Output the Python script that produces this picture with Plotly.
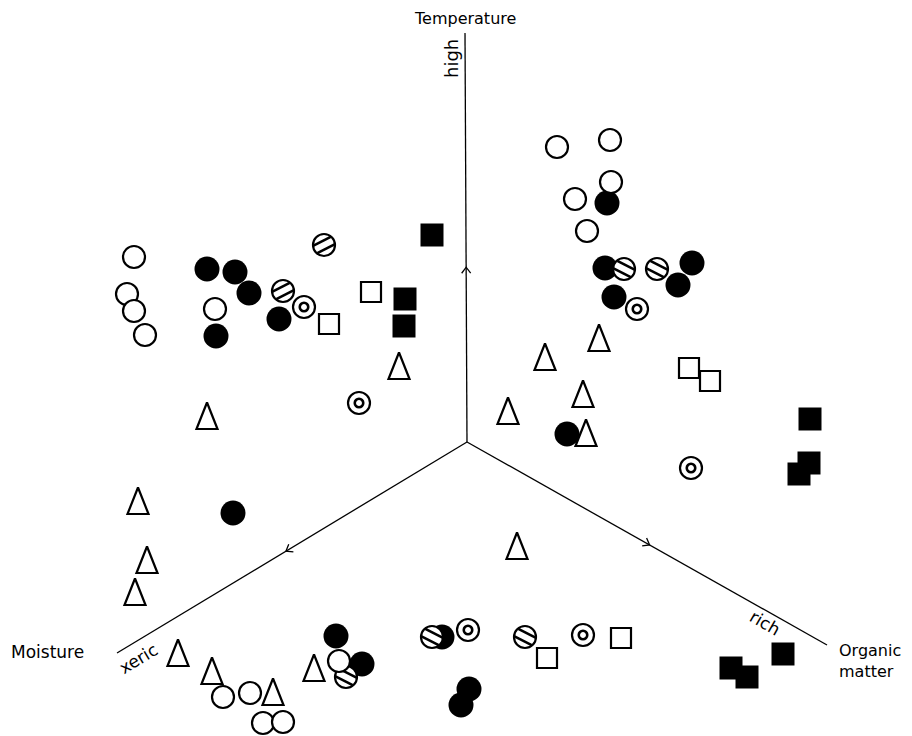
import math
import plotly.graph_objects as go

# ---------------- data (chart units: x to the right, y downward) ----------------
center_x, center_y = 467, 442
axis_names = ["Temperature", "Moisture", "Organic matter"]
axis_end_x = [465, 117, 827]
axis_end_y = [33, 653, 645]
axis_tick_frac = [0.42, 0.51, 0.50]
axis_pole_labels = ["high", "xeric", "rich"]

open_circle_x = [134, 127, 134, 145, 215, 557, 610, 611, 575, 587, 223, 250, 263, 283, 339]
open_circle_y = [257, 294, 311, 335, 309, 147, 140, 182, 199, 231, 697, 693, 723, 722, 661]

filled_circle_x = [207, 235, 249, 216, 279, 607, 605, 692, 678, 614, 567, 233, 336, 362, 442, 469, 461]
filled_circle_y = [269, 272, 293, 336, 319, 203, 268, 263, 285, 297, 434, 513, 636, 664, 637, 689, 705]

hatched_circle_x = [324, 283, 624, 657, 346, 432, 525]
hatched_circle_y = [245, 291, 269, 269, 677, 637, 637]

ringed_circle_x = [304, 359, 637, 691, 468, 583]
ringed_circle_y = [307, 403, 309, 468, 630, 635]

open_square_x = [329, 371, 689, 710, 547, 621]
open_square_y = [324, 292, 368, 381, 658, 638]

filled_square_x = [432, 405, 404, 810, 809, 799, 783, 731, 747]
filled_square_y = [235, 299, 326, 419, 463, 474, 654, 668, 677]

triangle_x = [399, 207, 599, 545, 583, 508, 586, 138, 147, 135, 178, 212, 273, 517, 314]
triangle_y = [366, 416, 338, 357, 394, 411, 433, 501, 560, 592, 653, 671, 692, 546, 668]

# ---------------- figure ----------------
FONT = "DejaVu Sans"
PAGE_MARGIN = 8  # default body margin of the html page
fig = go.Figure()

# axes lines
ax_x, ax_y = [], []
for ex, ey in zip(axis_end_x, axis_end_y):
    ax_x += [center_x, ex, None]
    ax_y += [center_y, ey, None]
fig.add_trace(go.Scatter(x=ax_x, y=ax_y, mode="lines",
                         line=dict(color="black", width=1.3), hoverinfo="skip"))

# chevron ticks (pointing outward) at tick fractions
tk_x, tk_y = [], []
for ex, ey, f in zip(axis_end_x, axis_end_y, axis_tick_frac):
    dx, dy = ex - center_x, ey - center_y
    L = math.hypot(dx, dy)
    ux, uy = dx / L, dy / L
    nx, ny = -uy, ux
    px, py = center_x + f * dx, center_y + f * dy
    vx, vy = px + 3 * ux, py + 3 * uy
    tk_x += [px - 3 * ux + 4.5 * nx, vx, px - 3 * ux - 4.5 * nx, None]
    tk_y += [py - 3 * uy + 4.5 * ny, vy, py - 3 * uy - 4.5 * ny, None]
fig.add_trace(go.Scatter(x=tk_x, y=tk_y, mode="lines",
                         line=dict(color="black", width=1.3), hoverinfo="skip"))

# filled circles
fig.add_trace(go.Scatter(x=filled_circle_x, y=filled_circle_y, mode="markers",
                         marker=dict(symbol="circle", size=25, color="black",
                                     line=dict(width=0))))

# hatched circles: white disc + outline + two stripes
fig.add_trace(go.Scatter(x=hatched_circle_x, y=hatched_circle_y, mode="markers",
                         marker=dict(symbol="circle", size=22, color="white",
                                     line=dict(color="black", width=2.2))))
hx, hy = [], []
for cx, cy in zip(hatched_circle_x, hatched_circle_y):
    rising = cx < center_x - 20 and cy < center_y
    ang = math.radians(-27 if rising else 27)  # y axis points downward
    dx, dy = math.cos(ang), math.sin(ang)
    nx, ny = -dy, dx
    for off in (-4.2, 4.2):
        half = math.sqrt(max(10.5 ** 2 - off ** 2, 0))
        mx, my = cx + off * nx, cy + off * ny
        hx += [mx - half * dx, mx + half * dx, None]
        hy += [my - half * dy, my + half * dy, None]
fig.add_trace(go.Scatter(x=hx, y=hy, mode="lines",
                         line=dict(color="black", width=2.6), hoverinfo="skip"))

# open circles
fig.add_trace(go.Scatter(x=open_circle_x, y=open_circle_y, mode="markers",
                         marker=dict(symbol="circle", size=22, color="white",
                                     line=dict(color="black", width=2.2))))

# ringed circles (outer ring + inner small ring)
fig.add_trace(go.Scatter(x=ringed_circle_x, y=ringed_circle_y, mode="markers",
                         marker=dict(symbol="circle", size=22, color="white",
                                     line=dict(color="black", width=2.2))))
fig.add_trace(go.Scatter(x=ringed_circle_x, y=ringed_circle_y, mode="markers",
                         marker=dict(symbol="circle", size=8.5, color="white",
                                     line=dict(color="black", width=2.6))))

# open squares
fig.add_trace(go.Scatter(x=open_square_x, y=open_square_y, mode="markers",
                         marker=dict(symbol="square", size=20, color="white",
                                     line=dict(color="black", width=2.2))))

# filled squares
fig.add_trace(go.Scatter(x=filled_square_x, y=filled_square_y, mode="markers",
                         marker=dict(symbol="square", size=23, color="black",
                                     line=dict(width=0))))

# open triangles (tall isoceles)
tx, ty = [], []
for cx, cy in zip(triangle_x, triangle_y):
    tx += [cx, cx - 10.5, cx + 10.5, cx, None]
    ty += [cy - 13.5, cy + 13, cy + 13, cy - 13.5, None]
fig.add_trace(go.Scatter(x=tx, y=ty, mode="lines", fill="toself", fillcolor="white",
                         line=dict(color="black", width=2.2), hoverinfo="skip"))

fig.update_traces(cliponaxis=False)

# ---------------- text ----------------
tf = dict(family=FONT, size=16, color="black")
ann = [
    dict(x=axis_end_x[0], y=18, text=axis_names[0], xanchor="center", yanchor="middle"),
    dict(x=9, y=652, text=axis_names[1], xanchor="left", yanchor="middle",
         font=dict(family=FONT, size=17, color="black")),
    dict(x=837, y=661, text="Organic<br>matter", xanchor="left", yanchor="middle", align="left"),
    dict(x=451, y=59, text=axis_pole_labels[0], textangle=-90, xanchor="center", yanchor="middle",
         font=dict(family=FONT, size=18, color="black")),
    dict(x=138, y=659, text=axis_pole_labels[1], textangle=-31, xanchor="center", yanchor="middle",
         font=dict(family=FONT, size=17, color="black")),
    dict(x=765, y=623, text=axis_pole_labels[2], textangle=30, xanchor="center", yanchor="middle",
         font=dict(family=FONT, size=17, color="black")),
]
for a in ann:
    a.setdefault("font", tf)
    a.update(xref="x", yref="y", showarrow=False)
fig.update_layout(annotations=ann)

fig.update_layout(
    width=912 - PAGE_MARGIN, height=736 - PAGE_MARGIN,
    margin=dict(l=0, r=0, t=0, b=0),
    paper_bgcolor="white", plot_bgcolor="white",
    showlegend=False,
    xaxis=dict(range=[PAGE_MARGIN, 912], visible=False, fixedrange=True),
    yaxis=dict(range=[736, PAGE_MARGIN], visible=False, fixedrange=True),
)

fig.write_html("out.html")
